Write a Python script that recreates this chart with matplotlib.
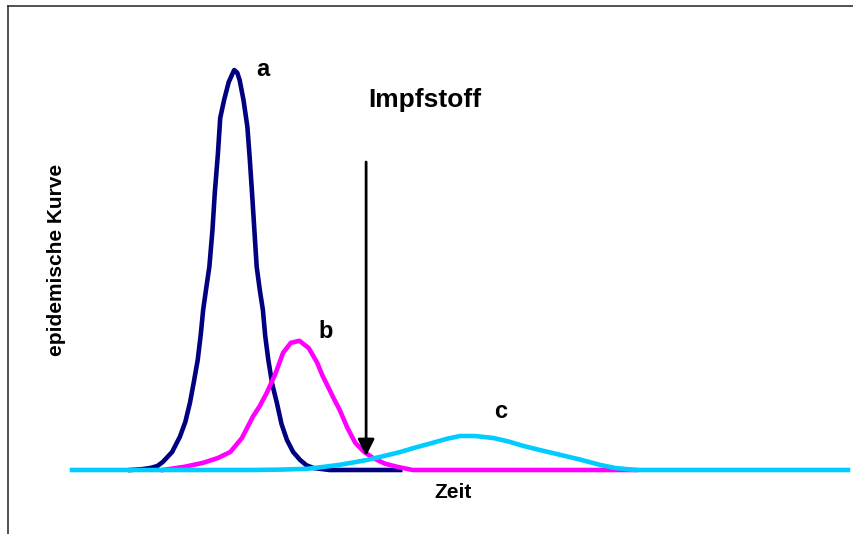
import matplotlib.pyplot as plt
from matplotlib.lines import Line2D

plt.rcParams['font.family'] = ['Liberation Sans', 'DejaVu Sans']

# time axis (arbitrary units) and epidemic curve heights
t_a = [7.5, 9.0, 10.1, 11.0, 11.7, 12.9, 13.9, 14.6, 15.2, 15.7, 16.2, 16.6,
       16.9, 17.3, 17.7, 18.1, 18.4, 18.8, 19.1, 19.6, 20.2, 20.9, 21.3, 21.6,
       22.1, 22.6, 22.9, 23.2, 23.5, 23.8, 24.2, 24.6, 24.9, 25.3, 25.8, 26.4,
       27.0, 27.7, 28.5, 29.4, 30.2, 31.1, 33.2, 42.3]
v_a = [0, 0.2, 0.5, 1.0, 2, 4.5, 8.3, 12, 16.8, 22, 27.5, 34,
       40, 45.5, 50.8, 60, 69.3, 79, 88, 92.5, 97, 100, 99.3, 97.5,
       92.5, 85.8, 78, 69.3, 60, 50.8, 45, 40, 33.5, 27.5, 21.5, 16.8,
       11.5, 7.5, 4.5, 2.5, 1.2, 0.5, 0, 0]

t_b = [11.7, 14.5, 16.9, 18.8, 20.4, 21.9, 23.3, 24.2, 25.1, 26.2, 27.2,
       28.2, 29.3, 30.5, 31.6, 32.3, 33.0, 33.7, 34.5, 35.5, 36.5, 37.6,
       38.8, 40.3, 41.9, 43.9, 72.6]
v_b = [0, 0.8, 1.8, 3, 4.5, 8, 13.3, 16, 19.3, 24, 29.3,
       31.8, 32.3, 30.5, 26.8, 23.5, 20.8, 18, 15, 10.5, 6.8, 4.6,
       3, 1.6, 0.8, 0, 0]

t_c = [0, 23.3, 27, 30.3, 32.5, 34.5, 36.3, 38.0, 40.2, 42.3, 44.4, 46.5,
       48.3, 50.0, 51.9, 54.3, 56.3, 58.2, 60.5, 62.9, 65.5, 68.0, 70.0,
       72.6, 78.4, 100]
v_c = [0, 0, 0.1, 0.3, 0.8, 1.3, 1.9, 2.5, 3.5, 4.5, 5.7, 6.8,
       7.8, 8.5, 8.5, 8, 7.1, 6, 4.9, 3.8, 2.6, 1.3, 0.5,
       0, 0, 0]

vaccine_time = 37.9

fig = plt.figure(figsize=(8.54, 5.34), dpi=100)
ax = fig.add_axes([72 / 854, 64 / 534, 776 / 854, 400 / 534])
ax.set_xlim(0, 100)
ax.set_ylim(0, 100)
ax.axis('off')

ax.plot(t_a, v_a, color='#000080', lw=3.3, clip_on=False, solid_joinstyle='round')
ax.plot(t_b, v_b, color='#FF00FF', lw=3.3, clip_on=False, solid_joinstyle='round')
ax.plot(t_c, v_c, color='#00CCFF', lw=3.3, clip_on=False, solid_joinstyle='round')

# vaccine arrow
ax.annotate('', xy=(vaccine_time, 3.5), xytext=(vaccine_time, 77),
            arrowprops=dict(arrowstyle='-|>', color='black', lw=2,
                            mutation_scale=25, shrinkA=0, shrinkB=0))

ax.text(24.6, 100, 'a', fontsize=17, fontweight='bold', ha='center', va='center')
ax.text(32.7, 34.5, 'b', fontsize=17, fontweight='bold', ha='center', va='center')
ax.text(55.3, 14.5, 'c', fontsize=17, fontweight='bold', ha='center', va='center')
ax.text(45.5, 92.5, 'Impfstoff', fontsize=19, fontweight='bold', ha='center', va='center')
ax.text(49.1, -5.5, 'Zeit', fontsize=15, fontweight='bold', ha='center', va='center',
        clip_on=False)

fig.text(57 / 854, 1 - 260 / 534, 'epidemische Kurve', fontsize=15, fontweight='bold',
         rotation=90, ha='center', va='center')

# frame (only left and top edges visible)
fig.add_artist(Line2D([8 / 854, 8 / 854], [0, 1 - 6 / 534], color='#333333', lw=1.2))
fig.add_artist(Line2D([8 / 854, 1], [1 - 6 / 534, 1 - 6 / 534], color='#333333', lw=1.2))

fig.savefig('out.png', dpi=100)
